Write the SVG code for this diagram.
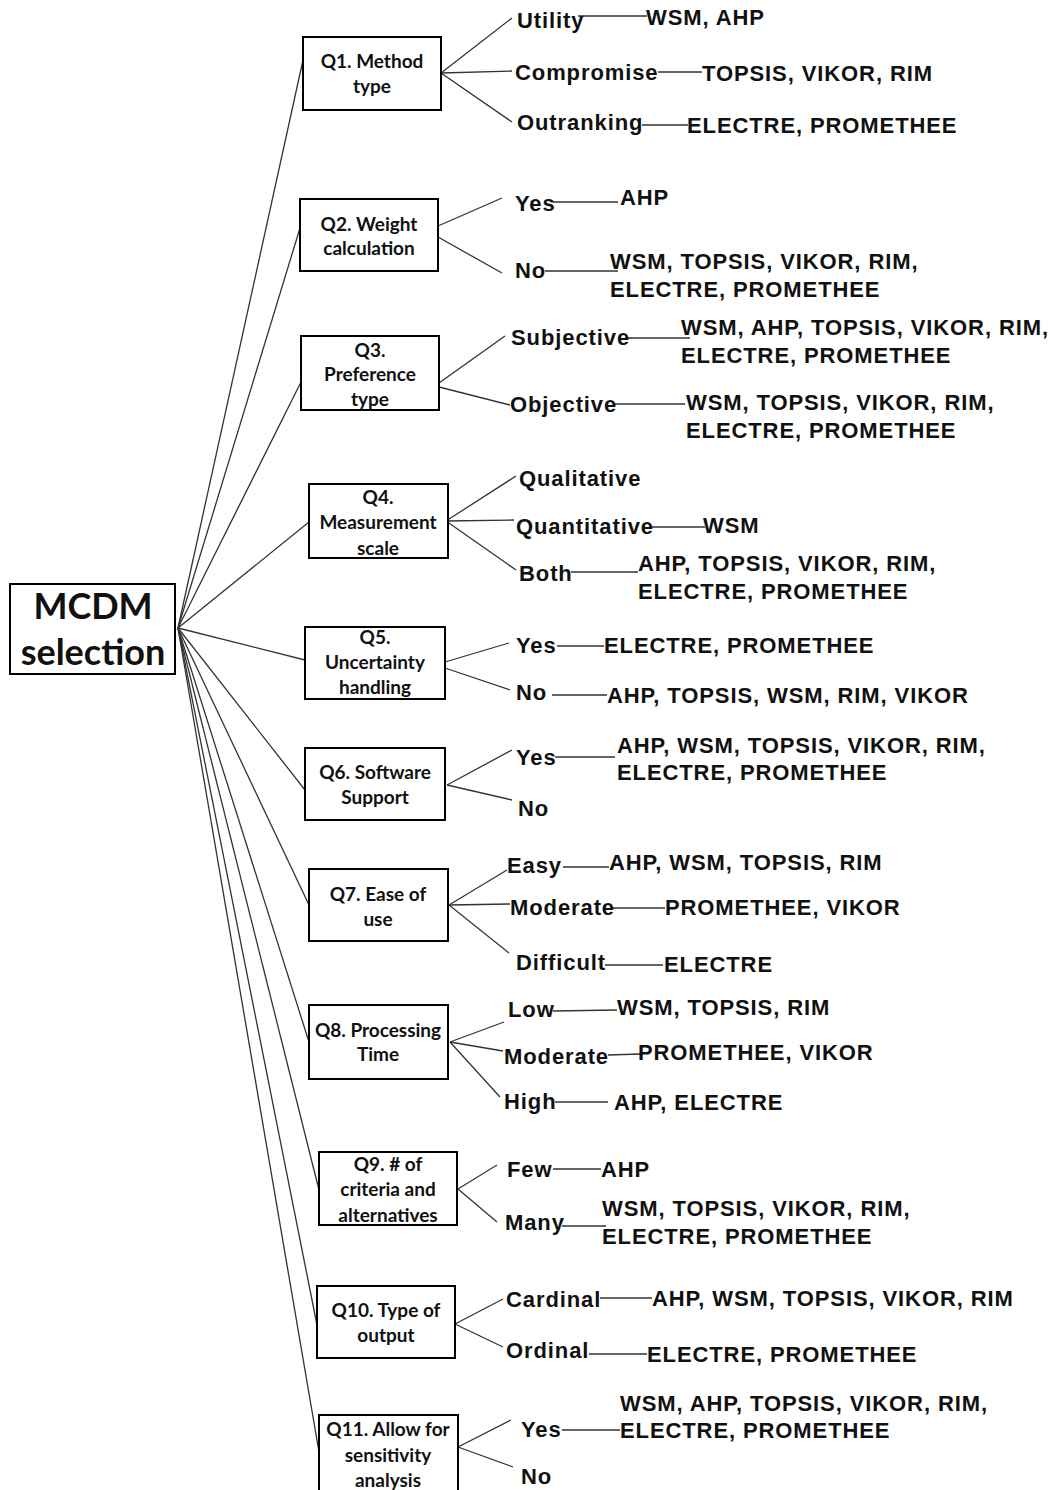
<svg xmlns="http://www.w3.org/2000/svg" width="1052" height="1490" viewBox="0 0 1052 1490">
<style>
.box{fill:#fff;stroke:#000;stroke-width:2}
.q{font-family:Lato,"Liberation Sans",sans-serif;font-weight:700;font-size:19px;fill:#111;text-anchor:middle}
.root{font-family:Lato,"Liberation Sans",sans-serif;font-weight:700;font-size:36px;fill:#111;text-anchor:middle}
.t{font-family:"Liberation Sans",Arial,sans-serif;font-weight:700;font-size:22px;letter-spacing:0.9px;fill:#111}
.c line{stroke:#333;stroke-width:1.3}
</style>
<rect width="1052" height="1490" fill="#fff"/>
<g id="connectors" class="c">
<line x1="178" y1="628" x2="303" y2="60"/>
<line x1="178" y1="628" x2="300" y2="228"/>
<line x1="178" y1="628" x2="301" y2="382"/>
<line x1="178" y1="628" x2="309" y2="522"/>
<line x1="178" y1="628" x2="305" y2="660"/>
<line x1="178" y1="628" x2="305" y2="790"/>
<line x1="178" y1="628" x2="309" y2="905"/>
<line x1="178" y1="628" x2="309" y2="1042"/>
<line x1="178" y1="628" x2="319" y2="1190"/>
<line x1="178" y1="628" x2="317" y2="1325"/>
<line x1="178" y1="628" x2="319" y2="1452"/>
<line x1="441" y1="73" x2="512" y2="18"/><line x1="441" y1="73" x2="512" y2="71"/><line x1="441" y1="73" x2="512" y2="122"/>
<line x1="578" y1="16" x2="647" y2="16"/><line x1="658" y1="72" x2="702" y2="72"/><line x1="642" y1="125" x2="688" y2="125"/>
<line x1="438" y1="226" x2="502" y2="198"/><line x1="438" y1="237" x2="502" y2="273"/>
<line x1="553" y1="202" x2="618" y2="202"/><line x1="545" y1="271" x2="618" y2="271"/>
<line x1="439" y1="383" x2="505" y2="336"/><line x1="439" y1="387" x2="510" y2="405"/>
<line x1="625" y1="338" x2="690" y2="338"/><line x1="613" y1="404" x2="685" y2="404"/>
<line x1="446" y1="521" x2="516" y2="476"/><line x1="446" y1="521" x2="514" y2="520"/><line x1="446" y1="521" x2="516" y2="570"/>
<line x1="652" y1="527" x2="705" y2="527"/><line x1="571" y1="572" x2="638" y2="572"/>
<line x1="445" y1="662" x2="509" y2="643"/><line x1="445" y1="668" x2="510" y2="690"/>
<line x1="557" y1="646" x2="604" y2="646"/><line x1="552" y1="695" x2="607" y2="695"/>
<line x1="447" y1="785" x2="512" y2="750"/><line x1="447" y1="785" x2="512" y2="800"/>
<line x1="555" y1="757" x2="615" y2="757"/>
<line x1="449" y1="905" x2="507" y2="870"/><line x1="449" y1="905" x2="510" y2="904"/><line x1="449" y1="905" x2="509" y2="953"/>
<line x1="563" y1="867" x2="609" y2="867"/><line x1="613" y1="908" x2="665" y2="908"/><line x1="605" y1="965" x2="663" y2="965"/>
<line x1="450" y1="1042" x2="504" y2="1022"/><line x1="450" y1="1042" x2="503" y2="1051"/><line x1="450" y1="1042" x2="500" y2="1097"/>
<line x1="553" y1="1011" x2="617" y2="1010"/><line x1="608" y1="1055" x2="640" y2="1054"/><line x1="555" y1="1102" x2="608" y2="1102"/>
<line x1="458" y1="1189" x2="497" y2="1165"/><line x1="458" y1="1189" x2="497" y2="1222"/>
<line x1="553" y1="1169" x2="601" y2="1169"/><line x1="562" y1="1226" x2="606" y2="1226"/>
<line x1="455" y1="1324" x2="503" y2="1299"/><line x1="455" y1="1324" x2="503" y2="1347"/>
<line x1="600" y1="1298" x2="652" y2="1298"/><line x1="589" y1="1354" x2="647" y2="1354"/>
<line x1="458" y1="1447" x2="511" y2="1420"/><line x1="458" y1="1447" x2="513" y2="1467"/>
<line x1="562" y1="1430" x2="620" y2="1430"/>
</g>
<g id="root"><rect class="box" x="10" y="584" width="165" height="90"/>
<text class="root" x="93" y="619">MCDM</text><text class="root" x="93" y="665">selection</text></g>
<g id="q1"><rect class="box" x="303" y="37" width="138" height="73"/>
<text class="q" x="372" y="68">Q1. Method</text><text class="q" x="372" y="93">type</text>
<text class="t" x="517" y="28">Utility</text><text class="t" x="515" y="80">Compromise</text><text class="t" x="517" y="130">Outranking</text>
<text class="t" x="646" y="25">WSM, AHP</text><text class="t" x="702" y="81">TOPSIS, VIKOR, RIM</text><text class="t" x="687" y="133">ELECTRE, PROMETHEE</text></g>
<g id="q2"><rect class="box" x="300" y="199" width="138" height="72"/>
<text class="q" x="369" y="231">Q2. Weight</text><text class="q" x="369" y="255">calculation</text>
<text class="t" x="515" y="211">Yes</text><text class="t" x="515" y="278">No</text>
<text class="t" x="620" y="205">AHP</text><text class="t" x="610" y="269">WSM, TOPSIS, VIKOR, RIM,</text><text class="t" x="610" y="297">ELECTRE, PROMETHEE</text></g>
<g id="q3"><rect class="box" x="301" y="336" width="138" height="74"/>
<text class="q" x="370" y="357">Q3.</text><text class="q" x="370" y="381">Preference</text><text class="q" x="370" y="406">type</text>
<text class="t" x="511" y="345">Subjective</text><text class="t" x="510" y="412">Objective</text>
<text class="t" x="681" y="335">WSM, AHP, TOPSIS, VIKOR, RIM,</text><text class="t" x="681" y="363">ELECTRE, PROMETHEE</text>
<text class="t" x="686" y="410">WSM, TOPSIS, VIKOR, RIM,</text><text class="t" x="686" y="438">ELECTRE, PROMETHEE</text></g>
<g id="q4"><rect class="box" x="309" y="484" width="139" height="74"/>
<text class="q" x="378" y="504">Q4.</text><text class="q" x="378" y="529">Measurement</text><text class="q" x="378" y="555">scale</text>
<text class="t" x="519" y="486">Qualitative</text><text class="t" x="516" y="534">Quantitative</text><text class="t" x="519" y="581">Both</text>
<text class="t" x="703" y="533">WSM</text><text class="t" x="638" y="571">AHP, TOPSIS, VIKOR, RIM,</text><text class="t" x="638" y="599">ELECTRE, PROMETHEE</text></g>
<g id="q5"><rect class="box" x="305" y="627" width="140" height="72"/>
<text class="q" x="375" y="644">Q5.</text><text class="q" x="375" y="669">Uncertainty</text><text class="q" x="375" y="694">handling</text>
<text class="t" x="516" y="653">Yes</text><text class="t" x="516" y="700">No</text>
<text class="t" x="604" y="653">ELECTRE, PROMETHEE</text><text class="t" x="607" y="703">AHP, TOPSIS, WSM, RIM, VIKOR</text></g>
<g id="q6"><rect class="box" x="305" y="748" width="140" height="72"/>
<text class="q" x="375" y="779">Q6. Software</text><text class="q" x="375" y="804">Support</text>
<text class="t" x="516" y="765">Yes</text><text class="t" x="518" y="816">No</text>
<text class="t" x="617" y="753">AHP, WSM, TOPSIS, VIKOR, RIM,</text><text class="t" x="617" y="780">ELECTRE, PROMETHEE</text></g>
<g id="q7"><rect class="box" x="309" y="869" width="139" height="72"/>
<text class="q" x="378" y="901">Q7. Ease of</text><text class="q" x="378" y="926">use</text>
<text class="t" x="507" y="873">Easy</text><text class="t" x="510" y="915">Moderate</text><text class="t" x="516" y="970">Difficult</text>
<text class="t" x="609" y="870">AHP, WSM, TOPSIS, RIM</text><text class="t" x="665" y="915">PROMETHEE, VIKOR</text><text class="t" x="664" y="972">ELECTRE</text></g>
<g id="q8"><rect class="box" x="309" y="1005" width="139" height="74"/>
<text class="q" x="378" y="1037">Q8. Processing</text><text class="q" x="378" y="1061">Time</text>
<text class="t" x="508" y="1017">Low</text><text class="t" x="504" y="1064">Moderate</text><text class="t" x="504" y="1109">High</text>
<text class="t" x="617" y="1015">WSM, TOPSIS, RIM</text><text class="t" x="638" y="1060">PROMETHEE, VIKOR</text><text class="t" x="614" y="1110">AHP, ELECTRE</text></g>
<g id="q9"><rect class="box" x="319" y="1152" width="138" height="73"/>
<text class="q" x="388" y="1171">Q9. # of</text><text class="q" x="388" y="1196">criteria and</text><text class="q" x="388" y="1222">alternatives</text>
<text class="t" x="507" y="1177">Few</text><text class="t" x="505" y="1230">Many</text>
<text class="t" x="601" y="1177">AHP</text><text class="t" x="602" y="1216">WSM, TOPSIS, VIKOR, RIM,</text><text class="t" x="602" y="1244">ELECTRE, PROMETHEE</text></g>
<g id="q10"><rect class="box" x="317" y="1286" width="138" height="72"/>
<text class="q" x="386" y="1317">Q10. Type of</text><text class="q" x="386" y="1342">output</text>
<text class="t" x="506" y="1307">Cardinal</text><text class="t" x="506" y="1358">Ordinal</text>
<text class="t" x="652" y="1306">AHP, WSM, TOPSIS, VIKOR, RIM</text><text class="t" x="647" y="1362">ELECTRE, PROMETHEE</text></g>
<g id="q11"><rect class="box" x="319" y="1415" width="139" height="82"/>
<text class="q" x="388" y="1436">Q11. Allow for</text><text class="q" x="388" y="1462">sensitivity</text><text class="q" x="388" y="1487">analysis</text>
<text class="t" x="521" y="1437">Yes</text><text class="t" x="521" y="1484">No</text>
<text class="t" x="620" y="1411">WSM, AHP, TOPSIS, VIKOR, RIM,</text><text class="t" x="620" y="1438">ELECTRE, PROMETHEE</text></g>
</svg>
